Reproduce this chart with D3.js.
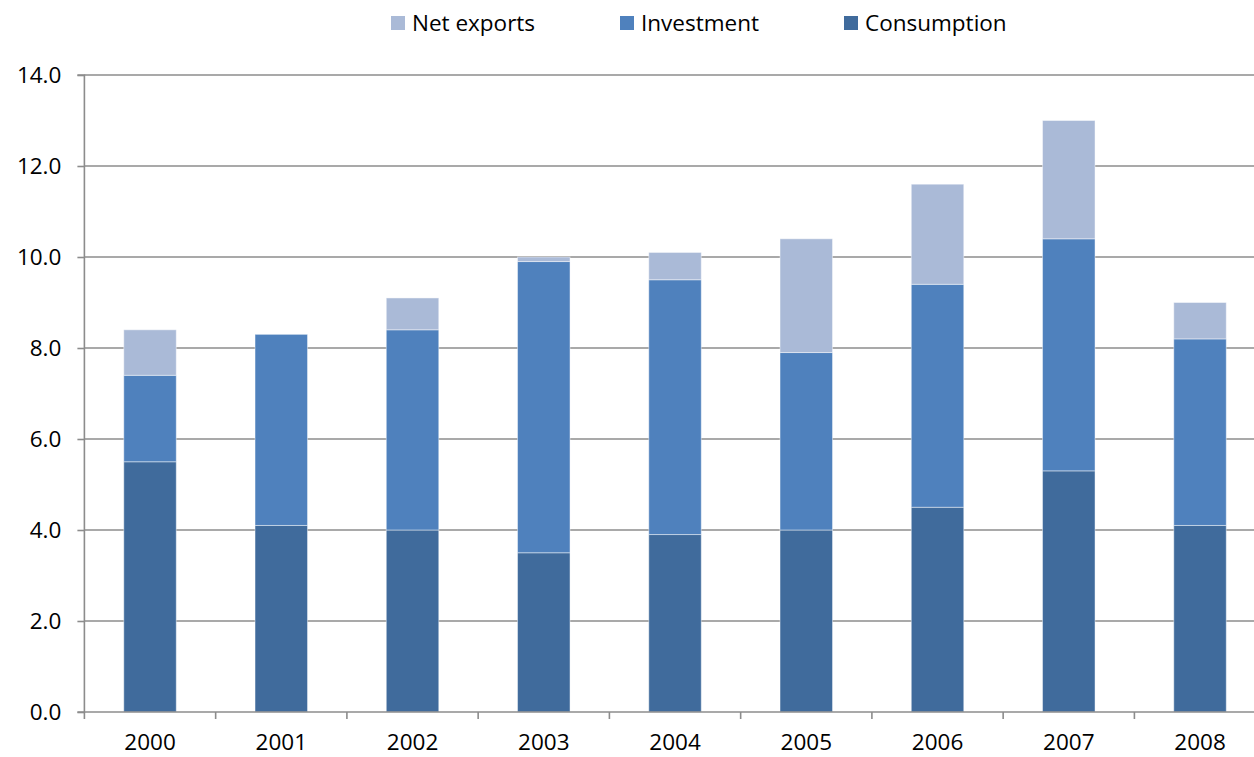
<!DOCTYPE html>
<html>
<head>
<meta charset="utf-8">
<script src="https://cdn.jsdelivr.net/npm/d3@7"></script>
<style>
  html, body { margin: 0; padding: 0; background: #fff; }
  svg { display: block; font-family: "Open Sans", "Liberation Sans", sans-serif; }
</style>
</head>
<body>
<svg id="chart" width="1254" height="757"></svg>
<script>
// GDP growth contributions by component, 2000-2008
const years = ["2000", "2001", "2002", "2003", "2004", "2005", "2006", "2007", "2008"];
const consumption = [5.5, 4.1, 4.0, 3.5, 3.9, 4.0, 4.5, 5.3, 4.1];
const investment  = [1.9, 4.2, 4.4, 6.4, 5.6, 3.9, 4.9, 5.1, 4.1];
const netExports  = [1.0, 0.0, 0.7, 0.1, 0.6, 2.5, 2.2, 2.6, 0.8];
const yTicks = [0, 2, 4, 6, 8, 10, 12, 14];

const seriesKeys = ["Consumption", "Investment", "Net exports"];
const colors = { "Consumption": "#406b9c", "Investment": "#4f81bd", "Net exports": "#aabad7" };
const legendOrder = ["Net exports", "Investment", "Consumption"];

const rows = years.map((y, i) => ({
  year: y,
  "Consumption": consumption[i],
  "Investment": investment[i],
  "Net exports": netExports[i]
}));

const svg = d3.select("#chart");
const left = 84.4, step = 131.25;
const x = d3.scaleBand()
  .domain(years)
  .range([left, left + step * years.length])
  .paddingInner(0.6)
  .paddingOuter(0.3);
const y = d3.scaleLinear().domain([0, 14]).range([712, 75]);

const gridColor = "#8c8c8c";
const fontSize = "22.5px";

// horizontal gridlines
svg.append("g")
  .selectAll("line")
  .data(yTicks.filter(d => d > 0))
  .join("line")
  .attr("x1", left).attr("x2", left + step * years.length)
  .attr("y1", d => y(d)).attr("y2", d => y(d))
  .attr("stroke", gridColor).attr("stroke-width", 1.6);

// stacked bars
const stacked = d3.stack().keys(seriesKeys)(rows);
svg.append("g")
  .selectAll("g")
  .data(stacked)
  .join("g")
  .attr("fill", d => colors[d.key])
  .selectAll("rect")
  .data(d => d.filter(p => p[1] - p[0] > 0))
  .join("rect")
  .attr("x", d => x(d.data.year))
  .attr("width", x.bandwidth())
  .attr("y", d => y(d[1]))
  .attr("height", d => y(d[0]) - y(d[1]))
  .attr("stroke", "rgba(255,255,255,0.45)")
  .attr("stroke-width", 1);

// y axis
const yAxis = d3.axisLeft(y)
  .tickValues(yTicks)
  .tickFormat(d3.format(".1f"))
  .tickSize(7)
  .tickPadding(16);
const gy = svg.append("g").attr("transform", `translate(${left},0)`).call(yAxis);
gy.select(".domain").attr("stroke", gridColor).attr("stroke-width", 1.6).attr("d", `M-7,${y(14)}H0V${y(0)}H-7`);
gy.selectAll(".tick line").attr("stroke", gridColor).attr("stroke-width", 1.6);
gy.selectAll(".tick text").attr("fill", "#000").style("font-size", fontSize)
  .style("font-family", '"Open Sans", "Liberation Sans", sans-serif');

// x axis with ticks on category boundaries
const boundaries = d3.range(years.length + 1).map(i => left + i * step);
const gx = svg.append("g");
gx.append("line")
  .attr("x1", left).attr("x2", left + step * years.length)
  .attr("y1", y(0)).attr("y2", y(0))
  .attr("stroke", gridColor).attr("stroke-width", 1.6);
gx.selectAll("line.tick")
  .data(boundaries)
  .join("line")
  .attr("class", "tick")
  .attr("x1", d => d).attr("x2", d => d)
  .attr("y1", y(0)).attr("y2", y(0) + 7)
  .attr("stroke", gridColor).attr("stroke-width", 1.6);
gx.selectAll("text")
  .data(years)
  .join("text")
  .attr("x", d => x(d) + x.bandwidth() / 2)
  .attr("y", 750)
  .attr("text-anchor", "middle")
  .style("font-size", fontSize)
  .attr("fill", "#000")
  .text(d => d);

// legend
const legendX = { "Net exports": 391, "Investment": 620, "Consumption": 844 };
const lg = svg.append("g").selectAll("g")
  .data(legendOrder)
  .join("g")
  .attr("transform", d => `translate(${legendX[d]},16)`);
lg.append("rect")
  .attr("width", 14).attr("height", 14)
  .attr("fill", d => colors[d]);
lg.append("text")
  .attr("x", 21).attr("y", 15)
  .style("font-size", fontSize)
  .attr("fill", "#000")
  .text(d => d);
</script>
</body>
</html>
